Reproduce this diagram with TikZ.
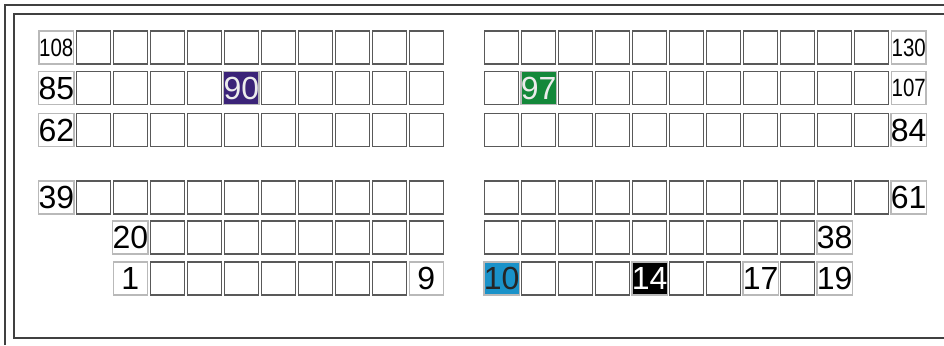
\documentclass[tikz,border=0pt]{standalone}
\usepackage{fontspec}
\setmainfont{Liberation Sans}
\usepackage{graphicx}
\usetikzlibrary{positioning}
\definecolor{seatpurple}{HTML}{3B2378}
\definecolor{seatgreen}{HTML}{14883A}
\definecolor{seatblue}{HTML}{1A92C9}
\newcommand{\narrownum}[1]{\scalebox{0.82}[1]{#1}}

\begin{document}
\begin{tikzpicture}[x=0.5pt, y=-0.5pt,
  seat/.style={draw=gray!70!black, line width=0.75pt, minimum width=17pt, minimum height=16.5pt,
    inner sep=0pt, font=\fontsize{16}{16}\selectfont},
  tag/.style={draw=gray!55, execute at begin node={#1}},
  smalltag/.style={tag=\narrownum{#1}, font=\fontsize{12.5}{12.5}\selectfont},
  frame/.style={line width=1.1pt, draw=black!75},
  seat108/.style={smalltag=108}, seat130/.style={smalltag=130}, seat107/.style={smalltag=107},
  seat85/.style={tag=85}, seat62/.style={tag=62}, seat39/.style={tag=39}, seat20/.style={tag=20},
  seat1/.style={tag=1}, seat9/.style={tag=9}, seat84/.style={tag=84}, seat61/.style={tag=61},
  seat38/.style={tag=38}, seat17/.style={tag=17}, seat19/.style={tag=19},
  seat90/.style={tag=90, fill=seatpurple, text=white!85!gray},
  seat97/.style={tag=97, fill=seatgreen, text=white!85!gray},
  seat10/.style={tag=10, fill=seatblue, text=black!85},
  seat14/.style={tag=14, fill=black, text=white}]
\useasboundingbox (0,0) rectangle (944,345);
\draw[frame] (5,345) -- (5,5) -- (944,5);
\draw[frame] (944,14) -- (14,14) -- (14,338) -- (944,338);
\foreach \yy/\cs/\first/\nl/\nr in {47.5/1/108/11/12, 88/1/85/11/12, 130/1/62/11/12,
    197.5/1/39/11/12, 237.5/3/20/9/10, 278.5/3/1/9/10} {
  \foreach \k in {1,...,\nl} {
    \pgfmathtruncatemacro{\num}{\first+\k-1}
    \node[seat, seat\num/.try] (s\num) at ({56.3+37*(\cs+\k-2)},\yy) {};
  }
  \foreach \k in {1,...,\nr} {
    \pgfmathtruncatemacro{\num}{\first+\nl+\k-1}
    \node[seat, seat\num/.try] (s\num) at ({501.7+37*(\k-1)},\yy) {};
  }
}
\end{tikzpicture}
\end{document}
